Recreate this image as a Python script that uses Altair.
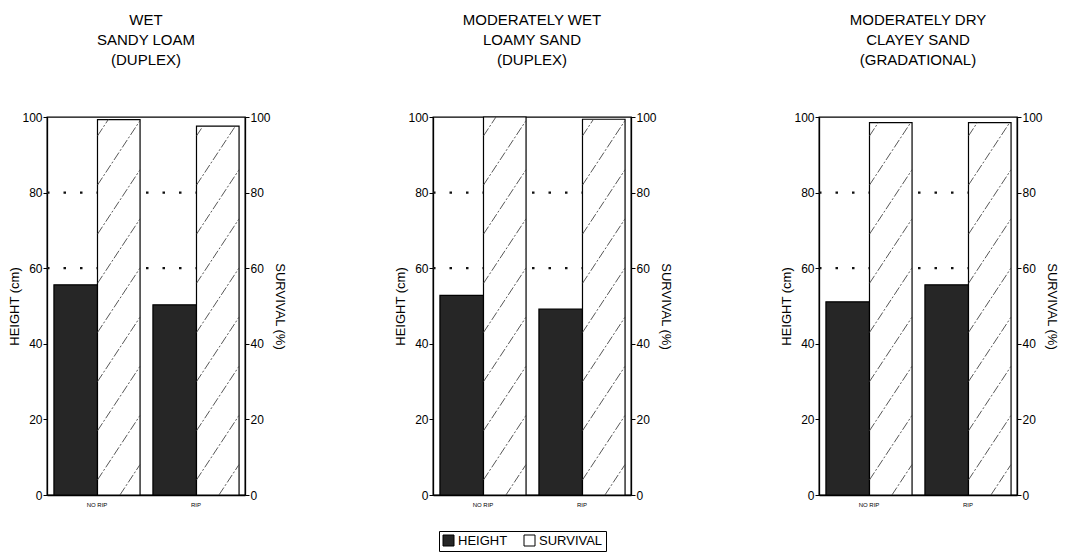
import altair as alt
import pandas as pd

# ---- data ----
panel_keys = ["WET", "MODERATELY WET", "MODERATELY DRY"]
panel_titles = [
    ["WET", "SANDY LOAM", "(DUPLEX)"],
    ["MODERATELY WET", "LOAMY SAND", "(DUPLEX)"],
    ["MODERATELY DRY", "CLAYEY SAND", "(GRADATIONAL)"],
]
groups = ["NO RIP", "RIP"]
height_cm = [[55.6, 50.3], [52.8, 49.2], [51.1, 55.6]]
survival_pct = [[99.3, 97.6], [100.0, 99.4], [98.5, 98.5]]
measures = ["HEIGHT", "SURVIVAL"]
grid_levels = [60, 80]
y_ticks = [0, 20, 40, 60, 80, 100]

FONT = "Liberation Sans"
DARK = "#262626"

rows = []
for p, key in enumerate(panel_keys):
    for g, grp in enumerate(groups):
        rows.append({"panel": key, "group": grp, "gi": g, "measure": "HEIGHT", "value": height_cm[p][g]})
        rows.append({"panel": key, "group": grp, "gi": g, "measure": "SURVIVAL", "value": survival_pct[p][g]})
df = pd.DataFrame(rows)

# hatch decoration inside survival bars (style only, derived from bar extents)
SLOPE = 39.7     # y-units per x-unit  (~ 1.5 px/px on screen)
STEP = 13.0      # vertical spacing of hatch lines in y-units
hatch_rows = []
for p, key in enumerate(panel_keys):
    for g in range(len(groups)):
        a, b, s = g + 0.51, g + 0.94, survival_pct[p][g]
        for k in range(-6, 12):
            c = k * STEP + 4.0
            lo = max(a, a + (0 - c) / SLOPE)
            hi = min(b, a + (s - c) / SLOPE)
            if hi - lo > 0.005:
                hatch_rows.append({"panel": key, "hx": lo, "hx2": hi,
                                   "hy": c + SLOPE * (lo - a), "hy2": c + SLOPE * (hi - a)})
hatch = pd.DataFrame(hatch_rows)
grid_df = pd.DataFrame({"level": grid_levels})

label_expr = f"datum.value < 1 ? '{groups[0]}' : '{groups[1]}'"
x_axis = alt.Axis(values=[0.5, 1.5], labelExpr=label_expr, ticks=False, grid=False,
                  title=None, labelFontSize=6, labelPadding=6, labelColor="black",
                  domainColor="black", domainWidth=1.3)
x_scale = alt.Scale(domain=[0, 2], nice=False, zero=False)
y_scale = alt.Scale(domain=[0, 100], nice=False)


def y_axis(title, orient, title_pad):
    return alt.Axis(title=title, values=y_ticks, grid=False, orient=orient,
                    tickSize=4, labelPadding=1, titlePadding=title_pad, labelFontSize=12,
                    titleFontSize=13, titleFontWeight="normal", labelColor="black",
                    titleColor="black", domainColor="black", domainWidth=1.3,
                    tickColor="black")


def panel(p):
    key = panel_keys[p]
    sub = df[df["panel"] == key]
    show_legend = (p == 1)
    legend = alt.Legend(orient="none", legendX=6, legendY=414, direction="horizontal",
                        title=None, symbolType="square", symbolSize=121,
                        symbolStrokeColor="black", symbolStrokeWidth=1, symbolOpacity=1,
                        labelFontSize=13, labelFont=FONT, labelColor="black",
                        strokeColor="black", fillColor="white", padding=3,
                        columnPadding=14, labelOffset=3) if show_legend else None
    color = alt.Color("measure:N", scale=alt.Scale(domain=measures, range=[DARK, "#ffffff"]),
                      legend=legend)

    grid = alt.Chart(grid_df).mark_rule(color="#111", strokeWidth=2.2,
                                        strokeDash=[2.5, 14]).encode(
        x=alt.datum(0, scale=x_scale, axis=x_axis),
        x2=alt.datum(2),
        y=alt.Y("level:Q", scale=y_scale, axis=None),
    )

    base = alt.Chart(sub).transform_calculate(
        x0="datum.gi + (datum.measure == 'HEIGHT' ? 0.07 : 0.51)",
        x1="datum.gi + (datum.measure == 'HEIGHT' ? 0.51 : 0.94)",
    )
    hbars = base.transform_filter("datum.measure == 'HEIGHT'").mark_bar(
        stroke="black", strokeWidth=1.2, opacity=1).encode(
        x=alt.X("x0:Q", scale=x_scale, axis=x_axis),
        x2="x1:Q",
        y=alt.Y("value:Q", scale=y_scale, axis=y_axis("HEIGHT (cm)", "left", 0)),
        y2=alt.datum(0),
        color=color,
    )
    sbars = base.transform_filter("datum.measure == 'SURVIVAL'").mark_bar(
        stroke="black", strokeWidth=1.2, opacity=1).encode(
        x=alt.X("x0:Q", scale=x_scale, axis=x_axis),
        x2="x1:Q",
        y=alt.Y("value:Q", scale=y_scale, axis=y_axis("SURVIVAL (%)", "right", 2)),
        y2=alt.datum(0),
        color=color,
    )
    hatch_layer = alt.Chart(hatch[hatch["panel"] == key]).mark_rule(
        color="#444", strokeWidth=0.9, strokeDash=[9, 2, 2, 2]).encode(
        x=alt.X("hx:Q", scale=x_scale, axis=x_axis),
        x2="hx2:Q",
        y=alt.Y("hy:Q", scale=y_scale, axis=None),
        y2="hy2:Q",
    )
    return alt.layer(grid, hbars, sbars, hatch_layer).resolve_scale(y="independent").properties(
        width=198, height=378,
        title=alt.TitleParams(panel_titles[p], fontSize=15, fontWeight="normal", font=FONT,
                              lineHeight=20, anchor="middle", offset=43, color="black"),
    )


chart = alt.hconcat(panel(0), panel(1), panel(2), spacing=108).resolve_scale(
    color="independent"
).properties(
    padding={"left": 0, "top": 4, "right": 4, "bottom": 0}
).configure(font=FONT).configure_view(stroke="black", strokeWidth=1.3)

chart.save("out.html", embed_options={"renderer": "svg", "actions": False})
